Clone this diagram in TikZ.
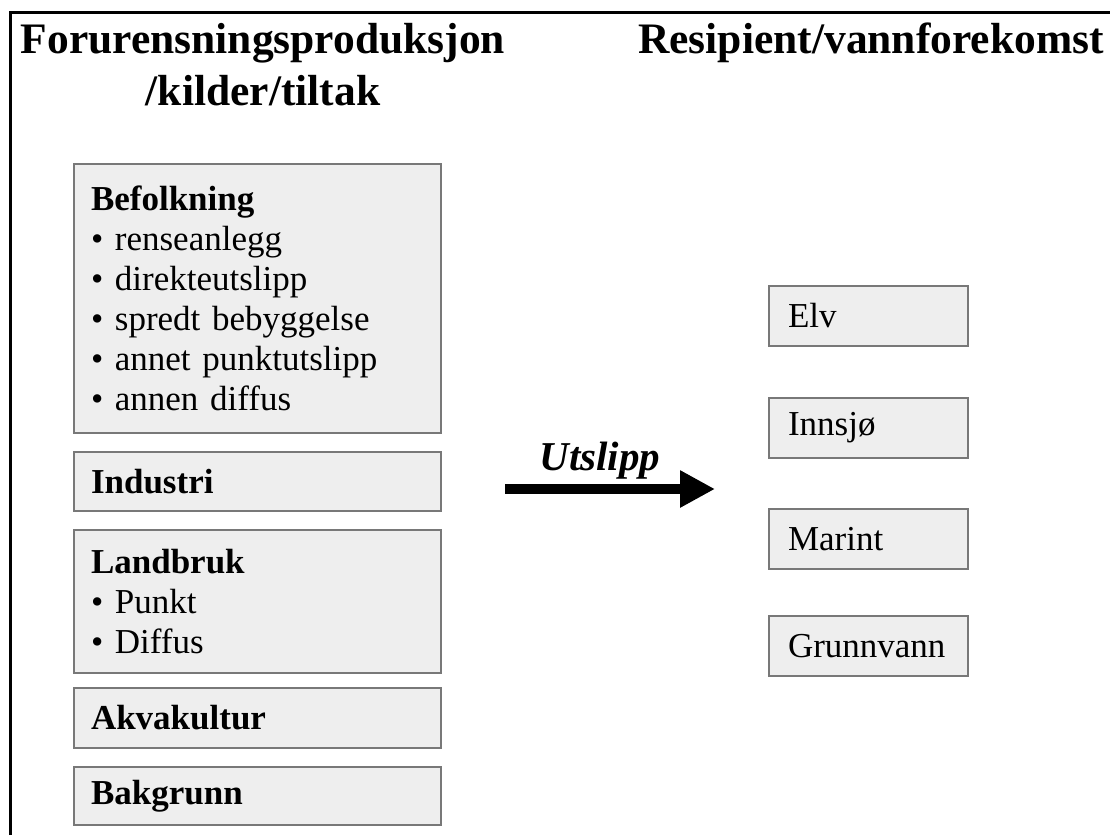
\documentclass[tikz,border=0pt]{standalone}
\usepackage{fontspec}
\setmainfont{Liberation Serif}
\usetikzlibrary{arrows.meta}
\definecolor{boxfill}{HTML}{EEEEEE}
\definecolor{boxline}{HTML}{787878}
\tikzset{srcbox/.style={draw=boxline,fill=boxfill,line width=2pt,anchor=north west,text width=333pt,inner xsep=17pt,inner ysep=0pt,align=left,font=\fontsize{35}{40}\selectfont},
tgtbox/.style={srcbox,text width=161pt,inner xsep=19pt,minimum height=60pt},
head/.style={anchor=base,inner sep=0pt,align=center,font=\bfseries\fontsize{43.5}{52}\selectfont}}
\begin{document}
\begin{tikzpicture}[x=1pt,y=-1pt]
\useasboundingbox (0,0) rectangle (1110,835);
\draw [line width=3pt] (10,835) -- (10,12) -- (1110,12);
\node [head] (kilder) at (263,105) {Forurensningsproduksjon\\/kilder/tiltak}; \node [head] (resipient) at (871,53) {Resipient/vannforekomst};
\node [srcbox,minimum height=269pt] (befolkning) at (73,163) {\textbf{Befolkning}\\• renseanlegg\\• direkteutslipp\\• spredt bebyggelse\\• annet punktutslipp\\• annen diffus};
\node [srcbox,minimum height=59pt] (industri) at (73,451) {\textbf{Industri}};
\node [srcbox,minimum height=143pt] (landbruk) at (73,529) {\textbf{Landbruk}\\• Punkt\\• Diffus};
\node [srcbox,minimum height=60pt] (akvakultur) at (73,687) {\textbf{Akvakultur}};
\node [srcbox,minimum height=58pt] (bakgrunn) at (73,766) {\textbf{Bakgrunn}};
\foreach \n/\y/\t in {elv/285/Elv, innsjo/397/Innsjø, marint/508/Marint, grunnvann/615/Grunnvann} { \node [tgtbox] (\n) at (768,\y) {\t}; }
\coordinate (u0) at (505,489); \coordinate (u1) at (715,489);
\draw [line width=10pt,-{Triangle[length=35pt,width=35pt]}] (u0) -- (u1);
\node [anchor=base,inner sep=0pt,font=\bfseries\itshape\fontsize{41}{48}\selectfont] (utslipp) at (600,470) {Utslipp};
\end{tikzpicture}
\end{document}
